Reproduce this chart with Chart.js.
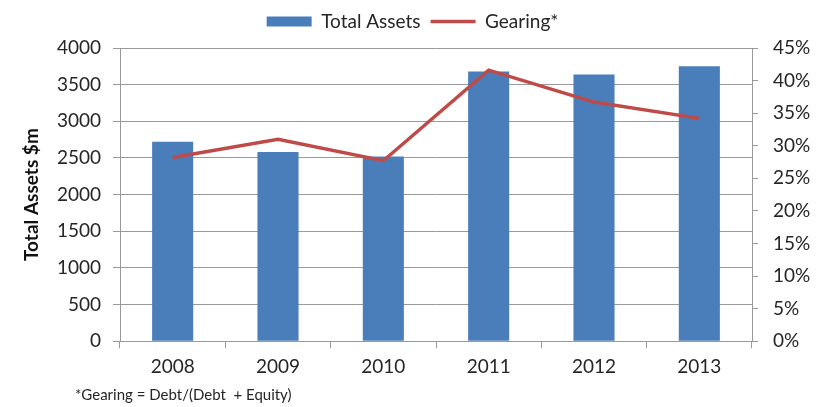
<!DOCTYPE html>
<html>
<head>
<meta charset="utf-8">
<script src="https://cdn.jsdelivr.net/npm/chart.js@4"></script>
<style>
  html, body { margin: 0; padding: 0; background: #fff; }
  #wrap { width: 825px; height: 407px; }
</style>
</head>
<body>
<div id="wrap"><canvas id="cvs" width="825" height="407"></canvas></div>
<script>
// data
const years = ['2008', '2009', '2010', '2011', '2012', '2013'];
const totalAssets = [2720, 2580, 2520, 3680, 3640, 3750];
const gearing = [0.282, 0.310, 0.277, 0.416, 0.367, 0.342];
const leftTicks = [0, 500, 1000, 1500, 2000, 2500, 3000, 3500, 4000];
const rightTicks = [0, 0.05, 0.10, 0.15, 0.20, 0.25, 0.30, 0.35, 0.40, 0.45];
const footnote = '*Gearing = Debt/(Debt  + Equity)';

const gridGray = '#9a9a9a';
const txt = '#262626';
const fam = 'Lato, "Open Sans", sans-serif';

// footnote under the chart + a bit more room under the legend
const footnotePlugin = {
  id: 'footnote',
  beforeLayout(chart) {
    const lg = chart.legend;
    if (lg && !lg._patched) {
      const fit = lg.fit;
      lg.fit = function () { fit.call(this); this.height += 7; };
      lg._patched = true;
    }
  },
  afterDraw(chart) {
    const ctx = chart.ctx;
    ctx.save();
    ctx.font = '15px ' + fam;
    ctx.fillStyle = txt;
    ctx.textBaseline = 'middle';
    ctx.fillText(footnote, 75, 395);
    ctx.restore();
  }
};

const ctx = document.getElementById('cvs').getContext('2d');
new Chart(ctx, {
  data: {
    labels: years,
    datasets: [{
      type: 'bar',
      label: 'Total Assets',
      data: totalAssets,
      backgroundColor: '#4a7ebb',
      borderWidth: 0,
      pointStyle: 'rect',
      yAxisID: 'y',
      barPercentage: 0.39,
      categoryPercentage: 1,
      order: 2
    }, {
      type: 'line',
      label: 'Gearing*',
      data: gearing,
      borderColor: '#be4b48',
      backgroundColor: '#be4b48',
      borderWidth: 3.5,
      pointRadius: 0,
      pointStyle: 'line',
      tension: 0,
      yAxisID: 'y1',
      order: 1
    }]
  },
  options: {
    responsive: false,
    animation: false,
    layout: { padding: { top: 2, bottom: 22, left: 0, right: 0 } },
    plugins: {
      legend: {
        position: 'top',
        labels: {
          usePointStyle: true,
          pointStyleWidth: 45,
          boxHeight: 10,
          padding: 10,
          color: txt,
          font: { family: fam, size: 19 },
          sort: (a, b) => a.datasetIndex - b.datasetIndex
        }
      },
      tooltip: { enabled: false }
    },
    scales: {
      x: {
        grid: { offset: true, drawOnChartArea: false, color: gridGray, tickLength: 7 },
        border: { color: gridGray },
        ticks: { color: txt, padding: 7, font: { family: fam, size: 19 } }
      },
      y: {
        position: 'left',
        min: 0,
        max: 4000,
        afterBuildTicks: s => { s.ticks = leftTicks.map(v => ({ value: v })); },
        afterFit: s => { s.width = 120; },
        grid: { color: gridGray, tickLength: 7 },
        border: { color: gridGray },
        ticks: {
          color: txt,
          padding: 12,
          font: { family: fam, size: 19 },
          callback: v => String(v)
        },
        title: {
          display: true,
          text: 'Total Assets $m',
          color: '#111',
          padding: { top: 20, bottom: 0 },
          font: { family: fam, size: 19, weight: 'bold' }
        }
      },
      y1: {
        position: 'right',
        min: 0,
        max: 0.45,
        afterBuildTicks: s => { s.ticks = rightTicks.map(v => ({ value: v })); },
        afterFit: s => { s.width = 73; },
        grid: { drawOnChartArea: false, color: gridGray, tickLength: 6 },
        border: { color: gridGray },
        ticks: {
          color: txt,
          padding: 15,
          font: { family: fam, size: 19 },
          callback: v => Math.round(v * 100) + '%'
        }
      }
    }
  },
  plugins: [footnotePlugin]
});
</script>
</body>
</html>
